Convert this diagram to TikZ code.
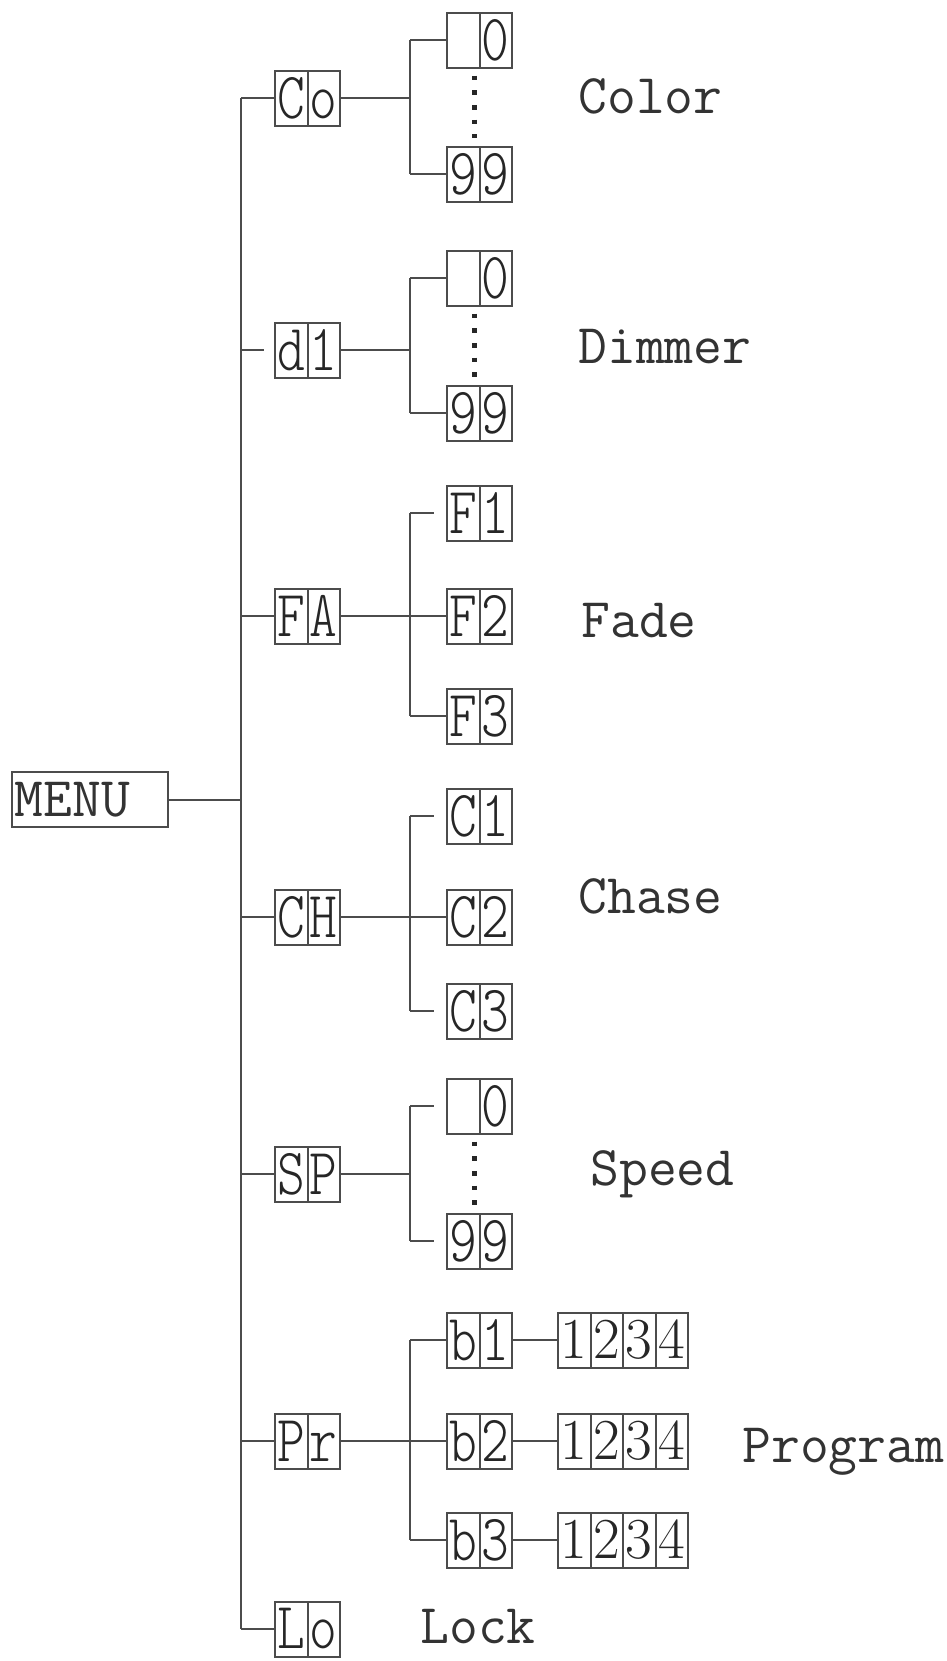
\documentclass[tikz,border=0pt]{standalone}
\usepackage{fontspec}
\usepackage{tikz}
\usetikzlibrary{positioning,calc}
\newfontfamily\segfont{lmmonolt10-regular}[Extension=.otf, FakeStretch=0.8]
\newcommand{\segpair}[2]{\makebox[16.25pt]{#1}\makebox[16.25pt]{#2}}
\newcommand{\bitrow}{\makebox[16.25pt]{1}\makebox[16.25pt]{2}\makebox[16.25pt]{3}\makebox[16.25pt]{4}}

\begin{document}
\begin{tikzpicture}[
    x=0.5pt, y=-0.5pt,
    menu/.style={rectangle, draw=black!70, line width=1pt, minimum width=78pt, minimum height=27.5pt, inner sep=1pt, text width=75pt, align=left, font=\ttfamily\fontsize{28}{30}\selectfont, text=black!80},
    seg/.style={rectangle, draw=black!70, line width=1pt, minimum width=32.5pt, minimum height=27.5pt, inner sep=0pt, font=\segfont\fontsize{33}{35}\selectfont, text=black!85, path picture={\draw[black!70, line width=1pt] (path picture bounding box.north) -- (path picture bounding box.south);}},
    bits/.style={rectangle, draw=black!70, line width=1pt, minimum width=65pt, minimum height=27.5pt, inner sep=0pt, font=\rmfamily\fontsize{29}{31}\selectfont, text=black!85, path picture={\foreach \k in {1,2,3} \draw[black!70, line width=1pt] ($(path picture bounding box.north west)!\k/4!(path picture bounding box.north east)$) -- ($(path picture bounding box.south west)!\k/4!(path picture bounding box.south east)$);}},
    fname/.style={anchor=base west, inner sep=0pt, font=\ttfamily\fontsize{28}{30}\selectfont, text=black!80},
    line/.style={draw, line width=1pt, color=black!70},
    dots/.style={draw, line width=2.6pt, color=black!85, dash pattern=on 2.4pt off 4.95pt}
]
\useasboundingbox (0,0) rectangle (947,1661);

% Nodes
\node [menu] (menu) at (90,799.5) {MENU};
\coordinate (trunk) at (241,799.5);
\coordinate (fork) at (410,0);

\node [seg] (co) at (307.5,98) {\segpair{C}{o}};
\node [seg] (di) at (307.5,350) {\segpair{d}{1}};
\node [seg] (fa) at (307.5,616) {\segpair{F}{A}};
\node [seg] (ch) at (307.5,917) {\segpair{C}{H}};
\node [seg] (sp) at (307.5,1174) {\segpair{S}{P}};
\node [seg] (pr) at (307.5,1441) {\segpair{P}{r}};
\node [seg] (lo) at (307.5,1629) {\segpair{L}{o}};

\node [seg] (co0) at (479.5,40) {\segpair{}{0}};
\node [seg] (co99) at (479.5,174) {\segpair{9}{9}};
\node [seg] (di0) at (479.5,278) {\segpair{}{0}};
\node [seg] (di99) at (479.5,413) {\segpair{9}{9}};
\node [seg] (f1) at (479.5,513) {\segpair{F}{1}};
\node [seg] (f2) at (479.5,616) {\segpair{F}{2}};
\node [seg] (f3) at (479.5,716) {\segpair{F}{3}};
\node [seg] (c1) at (479.5,816) {\segpair{C}{1}};
\node [seg] (c2) at (479.5,917) {\segpair{C}{2}};
\node [seg] (c3) at (479.5,1011) {\segpair{C}{3}};
\node [seg] (sp0) at (479.5,1106) {\segpair{}{0}};
\node [seg] (sp99) at (479.5,1241) {\segpair{9}{9}};
\node [seg] (b1) at (479.5,1340) {\segpair{b}{1}};
\node [seg] (b2) at (479.5,1441) {\segpair{b}{2}};
\node [seg] (b3) at (479.5,1540) {\segpair{b}{3}};

\node [bits, right=22pt of b1] (n1) {\bitrow};
\node [bits, right=22pt of b2] (n2) {\bitrow};
\node [bits, right=22pt of b3] (n3) {\bitrow};

\node [fname] (color) at (578,113) {Color};
\node [fname] (dimmer) at (578,363) {Dimmer};
\node [fname] (fade) at (581,637) {Fade};
\node [fname] (chase) at (578,913) {Chase};
\node [fname] (speed) at (590,1185) {Speed};
\node [fname] (program) at (742,1462) {Program};
\node [fname] (lock) at (420,1643) {Lock};

% Connectors
\path [line] (menu) -- (trunk);
\path [line] (co -| trunk) -- (lo -| trunk);
\path [line] (co -| trunk) -- (co);
\path [line] (di -| trunk) -- ([xshift=-5pt]di.west);
\path [line] (fa -| trunk) -- (fa);
\path [line] (ch -| trunk) -- (ch);
\path [line] (sp -| trunk) -- (sp);
\path [line] (pr -| trunk) -- (pr);
\path [line] (lo -| trunk) -- (lo);

% Color
\path [line] (co) -- (co -| fork);
\path [line] (co0 -| fork) -- (co99 -| fork);
\path [line] (co0 -| fork) -- (co0);
\path [line] (co99 -| fork) -- (co99);
\path [dots] ([xshift=-2.5pt, yshift=-3.5pt]co0.south) -- ([xshift=-2.5pt, yshift=4pt]co99.north);

% Dimmer
\path [line] (di) -- (di -| fork);
\path [line] (di0 -| fork) -- (di99 -| fork);
\path [line] (di0 -| fork) -- (di0);
\path [line] (di99 -| fork) -- (di99);
\path [dots] ([xshift=-2.5pt, yshift=-3.5pt]di0.south) -- ([xshift=-2.5pt, yshift=4pt]di99.north);

% Fade
\path [line] (fa) -- (f2);
\path [line] (f1 -| fork) -- (f3 -| fork);
\path [line] (f1 -| fork) -- ([xshift=-6pt]f1.west);
\path [line] (f3 -| fork) -- (f3);

% Chase
\path [line] (ch) -- (c2);
\path [line] (c1 -| fork) -- (c3 -| fork);
\path [line] (c1 -| fork) -- ([xshift=-6pt]c1.west);
\path [line] (c3 -| fork) -- ([xshift=-6pt]c3.west);

% Speed
\path [line] (sp) -- (sp -| fork);
\path [line] (sp0 -| fork) -- (sp99 -| fork);
\path [line] (sp0 -| fork) -- ([xshift=-6pt]sp0.west);
\path [line] (sp99 -| fork) -- ([xshift=-6pt]sp99.west);
\path [dots] ([xshift=-2.5pt, yshift=-3.5pt]sp0.south) -- ([xshift=-2.5pt, yshift=4pt]sp99.north);

% Program
\path [line] (pr) -- (b2);
\path [line] (b1 -| fork) -- (b3 -| fork);
\path [line] (b1 -| fork) -- (b1);
\path [line] (b3 -| fork) -- (b3);
\path [line] (b1) -- (n1);
\path [line] (b2) -- (n2);
\path [line] (b3) -- (n3);

\end{tikzpicture}
\end{document}
